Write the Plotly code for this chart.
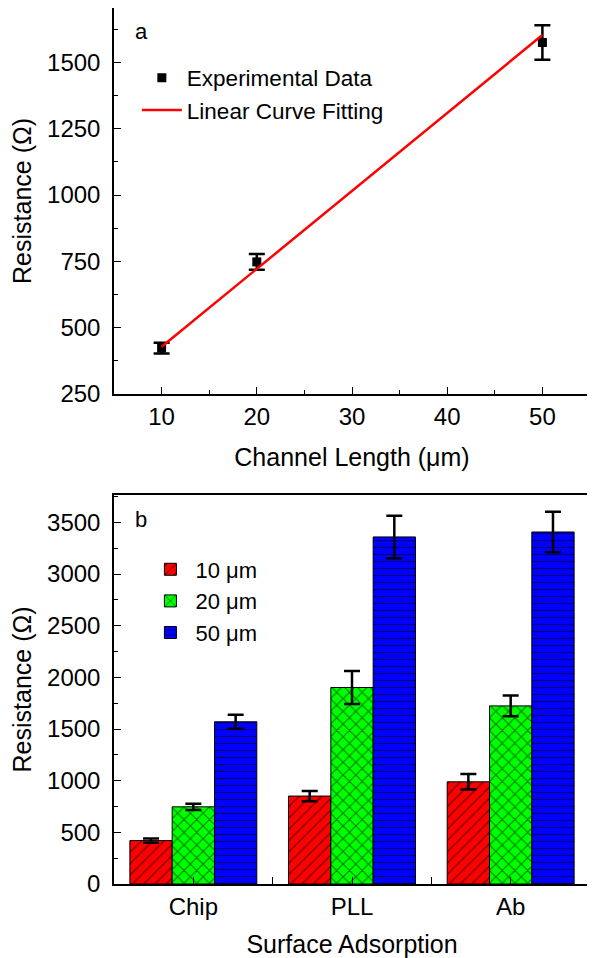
import plotly.graph_objects as go

# ---- Panel a data ----
channel_length = [10, 20, 50]
resistance_a = [423, 748, 1575]
resistance_a_err = [20, 30, 65]
fit_x = [10, 50]
fit_y = [428, 1603]

# ---- Panel b data ----
categories = ["Chip", "PLL", "Ab"]
cat_pos = [0, 1, 2]
res_10 = [420, 851, 989]
err_10 = [20, 50, 75]
res_20 = [747, 1902, 1724]
err_20 = [30, 160, 100]
res_50 = [1570, 3359, 3407]
err_50 = [67, 205, 195]

FONT = "Liberation Sans, Arial, sans-serif"
# the page body adds an 8px offset, so the figure is sized/placed to compensate
W, H = 587, 950
ML, MR, MT, MB = 106, 5, 0, 74
PH = H - MT - MB  # 876

fig = go.Figure()

fig.add_trace(go.Scatter(
    x=channel_length, y=resistance_a, mode="markers", name="Experimental Data",
    marker=dict(symbol="square", size=9, color="black"),
    error_y=dict(type="data", array=resistance_a_err, color="black", thickness=2.5, width=8),
    xaxis="x", yaxis="y", legend="legend"))
fig.add_trace(go.Scatter(
    x=fit_x, y=fit_y, mode="lines", name="Linear Curve Fitting",
    line=dict(color="red", width=2.5), xaxis="x", yaxis="y", legend="legend"))

bar_specs = [
    ("10 μm", res_10, err_10, "#ff0000", "/", 8, 0.18),
    ("20 μm", res_20, err_20, "#00ff00", "x", 9, 0.24),
    ("50 μm", res_50, err_50, "#0000ff", "-", 7, 0.18),
]
for name, vals, errs, col, shape, psize, sol in bar_specs:
    fig.add_trace(go.Bar(
        x=cat_pos, y=vals, name=name, xaxis="x2", yaxis="y2", legend="legend2",
        marker=dict(color=col, line=dict(color="black", width=1),
                    pattern=dict(shape=shape, fgcolor="black", bgcolor=col,
                                 size=psize, solidity=sol, fillmode="overlay")),
        error_y=dict(type="data", array=errs, color="black", thickness=2.5, width=8)))

top_lo = (PH - 386) / PH
bot_hi = (PH - 487) / PH

axis_common = dict(showline=True, linecolor="black", linewidth=1.5, mirror=True,
                   ticks="inside", ticklen=7, tickwidth=1.2, tickcolor="black",
                   showgrid=False, zeroline=False, automargin=False,
                   tickfont=dict(family=FONT, size=24, color="black"))
title_font = dict(family=FONT, size=25, color="black")

fig.update_layout(
    width=W, height=H, margin=dict(l=ML, r=MR, t=MT, b=MB),
    plot_bgcolor="white", paper_bgcolor="white",
    font=dict(family=FONT, color="black"),
    barmode="group", bargap=0.2, bargroupgap=0,
    xaxis=dict(**axis_common, domain=[0, 1], anchor="y", range=[5, 55],
               tick0=10, dtick=10, ticklabelstandoff=0,
               minor=dict(ticks="inside", ticklen=4, tick0=5, dtick=5, tickcolor="black"),
               title=dict(text="Channel Length (μm)", font=title_font, standoff=20)),
    yaxis=dict(**axis_common, domain=[top_lo, 1], anchor="x", range=[250, 1705],
               tick0=250, dtick=250, ticklabelstandoff=7,
               minor=dict(ticks="inside", ticklen=4, tick0=250, dtick=125, tickcolor="black"),
               title=dict(text="Resistance (Ω)", font=title_font, standoff=11)),
    xaxis2=dict(**axis_common, domain=[0, 1], anchor="y2", range=[-0.5, 2.5],
                tickmode="array", tickvals=cat_pos, ticktext=categories, ticklabelstandoff=0,
                minor=dict(ticks="inside", ticklen=7, tick0=0.5, dtick=1, tickcolor="black"),
                title=dict(text="Surface Adsorption", font=title_font, standoff=20)),
    yaxis2=dict(**axis_common, domain=[0, bot_hi], anchor="x2", range=[0, 3765],
                tick0=0, dtick=500, ticklabelstandoff=7,
                minor=dict(ticks="inside", ticklen=4, tick0=0, dtick=250, tickcolor="black"),
                title=dict(text="Resistance (Ω)", font=title_font, standoff=11)),
    legend=dict(x=0.048, y=0.9446, xref="paper", yref="paper", xanchor="left", yanchor="top",
                bgcolor="rgba(0,0,0,0)", font=dict(family=FONT, size=22.5, color="black"),
                itemwidth=40, tracegroupgap=0),
    legend2=dict(x=0.066, y=0.383, xref="paper", yref="paper", xanchor="left", yanchor="top",
                 bgcolor="rgba(0,0,0,0)", font=dict(family=FONT, size=22, color="black"),
                 itemwidth=40, tracegroupgap=0),
    annotations=[
        dict(text="a", x=0.040, y=0.938, xref="x domain", yref="y domain",
             showarrow=False, xanchor="left", yanchor="middle", font=dict(family=FONT, size=22)),
        dict(text="b", x=0.040, y=0.936, xref="x2 domain", yref="y2 domain",
             showarrow=False, xanchor="left", yanchor="middle", font=dict(family=FONT, size=22)),
    ],
)

fig.write_html("out.html")
